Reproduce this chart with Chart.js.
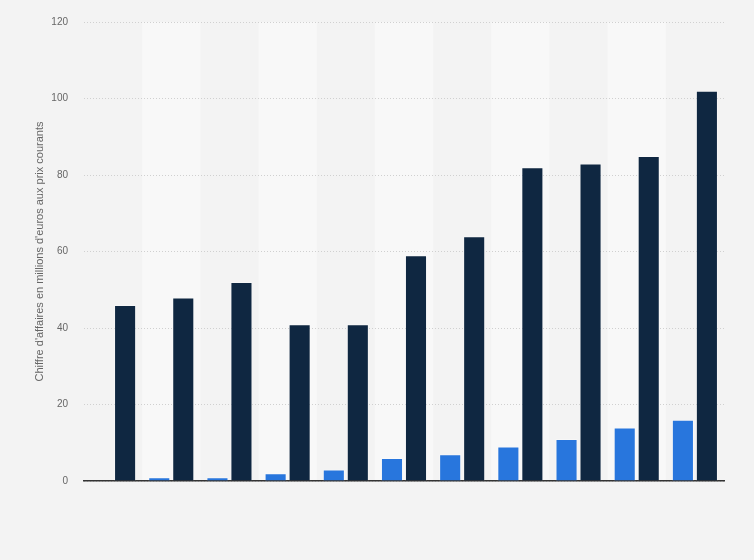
<!DOCTYPE html>
<html>
<head>
<meta charset="utf-8">
<script src="https://cdn.jsdelivr.net/npm/chart.js@4.4.1/dist/chart.umd.min.js"></script>
<style>
  html, body { margin: 0; padding: 0; background: #f3f3f3; }
  #wrap { width: 754px; height: 560px; }
</style>
</head>
<body>
<div id="wrap"><canvas id="chart"></canvas></div>
<script>
// 11 groups, no x labels shown in the picture
const categories = ['1', '2', '3', '4', '5', '6', '7', '8', '9', '10', '11'];
const seriesLight = [0, 1, 1, 2, 3, 6, 7, 9, 11, 14, 16];
const seriesDark = [46, 48, 52, 41, 41, 59, 64, 82, 83, 85, 102];
const yTicks = [0, 20, 40, 60, 80, 100, 120];

// lighter background band behind every other group
const bands = {
    id: 'bands',
    beforeDraw(chart) {
        const { ctx, chartArea, scales: { x } } = chart;
        const step = (chartArea.right - chartArea.left) / categories.length;
        ctx.save();
        ctx.fillStyle = '#f8f8f8';
        categories.forEach((_, i) => {
            if (i % 2 === 1) {
                const c = x.getPixelForValue(i);
                ctx.fillRect(c - step / 2, chartArea.top, step, chartArea.bottom - chartArea.top);
            }
        });
        ctx.restore();
    }
};

const ctx = document.getElementById('chart').getContext('2d');
new Chart(ctx, {
    type: 'bar',
    data: {
        labels: categories,
        datasets: [{
            data: seriesLight,
            backgroundColor: '#2876dd',
            borderColor: 'rgba(255, 255, 255, 0.35)',
            borderWidth: 1,
            categoryPercentage: 0.825,
            barPercentage: 0.92,
        }, {
            data: seriesDark,
            backgroundColor: '#0f2741',
            borderColor: 'rgba(255, 255, 255, 0.3)',
            borderWidth: 1,
            categoryPercentage: 0.825,
            barPercentage: 0.92,
        }],
    },
    options: {
        responsive: true,
        maintainAspectRatio: false,
        animation: false,
        layout: { padding: { left: 0, right: 30, top: 20, bottom: 0 } },
        plugins: {
            legend: { display: false },
            tooltip: { enabled: false },
        },
        scales: {
            x: {
                ticks: { display: false },
                grid: { display: false },
                border: { color: '#333', width: 1.5 },
                afterFit(scale) { scale.height = 79; },
            },
            y: {
                min: 0,
                max: 120,
                afterBuildTicks(scale) { scale.ticks = yTicks.map(v => ({ value: v })); },
                ticks: {
                    color: '#666',
                    padding: 16,
                    font: { family: 'Liberation Sans, Arial, sans-serif', size: 10 },
                },
                grid: { color: '#d0d0d0', drawTicks: false },
                border: { display: false, dash: [1, 2] },
                title: {
                    display: true,
                    text: "Chiffre d'affaires en millions d'euros aux prix courants",
                    color: '#666',
                    padding: { top: 33, bottom: 0 },
                    font: { family: 'Liberation Sans, Arial, sans-serif', size: 11 },
                },
                afterFit(scale) { scale.width = 84; },
            },
        },
    },
    plugins: [bands],
});
</script>
</body>
</html>
